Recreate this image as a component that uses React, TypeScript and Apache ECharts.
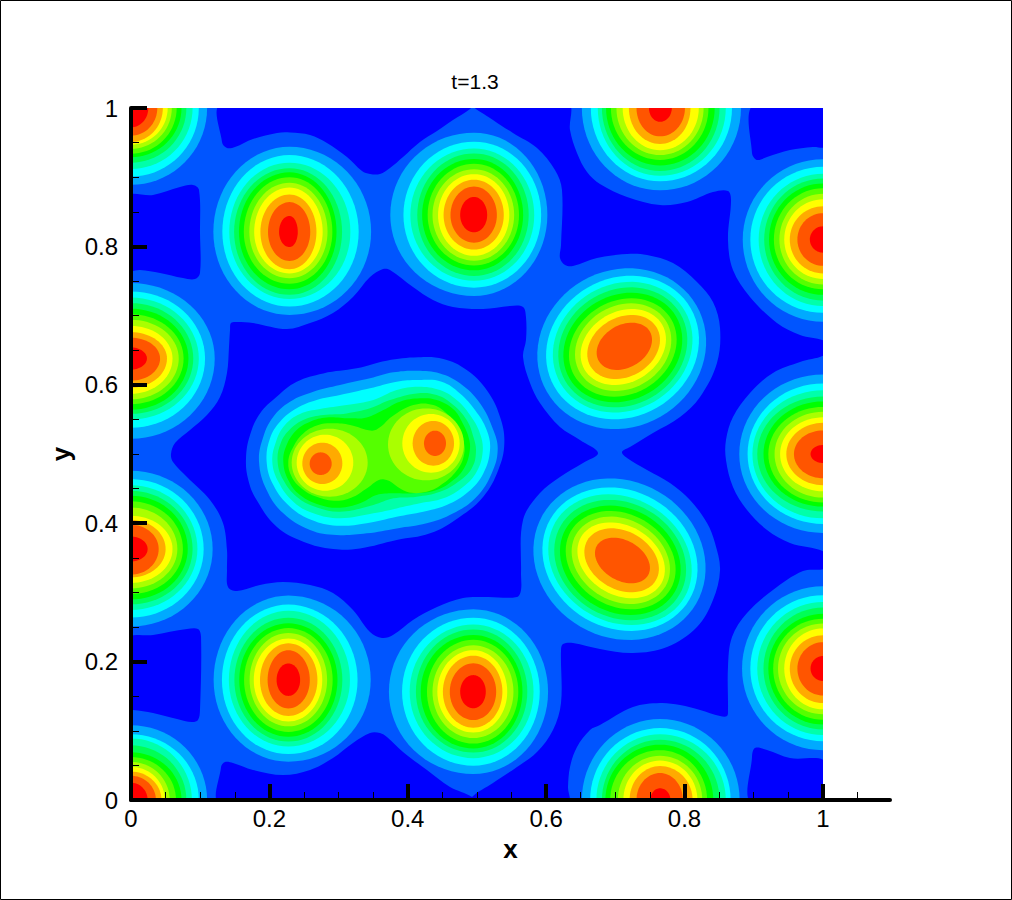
import React, { useEffect, useRef } from "react";
import * as echarts from "echarts";

const levelColors = ["#0000ff", "#0055ff", "#00aaff", "#00ffff", "#00ffaa", "#00ff55", "#00ff00", "#55ff00", "#aaff00", "#ffff00", "#ffaa00", "#ff5500", "#ff0000"];
const xMajor = [0, 0.2, 0.4, 0.6, 0.8, 1];
const xMinor = [0.05, 0.1, 0.15, 0.25, 0.3, 0.35, 0.45, 0.5, 0.55, 0.65, 0.7, 0.75, 0.85, 0.9, 0.95, 1.05];
const title = "t=1.3";

type Pt = [number, number];
// Regions of the lowest level (dark blue), read in x,y data units
const holeTop: Pt[] = [[.1315,1.0058],[.1315,.9509],[.1387,.9422],[.1503,.9436],[.1763,.9552],[.211,.9639],[.2298,.9646],[.2587,.961],[.2832,.9494],[.3121,.9292],[.3338,.909],[.3454,.9046],[.3598,.9046],[.3743,.9133],[.3931,.9292],[.4176,.9509],[.4422,.9668],[.4653,.9827],[.4899,.9986],[.4942,1.0058]];
const holeWide: Pt[] = [[.4942,1.0058],[.6315,1.0058],[.6344,.9682],[.6445,.935],[.659,.9075],[.6777,.8902],[.7168,.8714],[.7645,.8598],[.8035,.8642],[.841,.8786],[.8627,.8801],[.8671,.8671],[.8627,.8092],[.8699,.7659],[.8945,.7269],[.9335,.6893],[.9668,.672],[1.0043,.6618],[1.0043,.6445],[.9668,.6329],[.9277,.6171],[.8945,.5882],[.8699,.5535],[.8598,.5202],[.8598,.4913],[.8699,.4523],[.8902,.4191],[.9191,.3902],[.9523,.3714],[1.0043,.3569],[1.0043,.3353],[.9711,.3309],[.9277,.3035],[.8902,.2702],[.8685,.2355],[.8627,.1922],[.8627,.1301],[.8613,.1214],[.8512,.1214],[.8223,.1301],[.7934,.1373],[.7645,.1402],[.7254,.1344],[.6777,.1084],[.6633,.1012],[.6445,.0766],[.6344,.0477],[.6315,.0188],[.6315,-.0058],[.4928,-.0058],[.4928,.0043],[.5231,.0246],[.5578,.0477],[.5867,.0694],[.6098,.1012],[.6214,.1402],[.6214,.2168],[.6243,.2254],[.6387,.2269],[.6777,.2182],[.7254,.2124],[.7746,.2211],[.8179,.25],[.841,.289],[.8512,.3324],[.8439,.3714],[.8324,.4003],[.8078,.4335],[.7789,.4581],[.7457,.4769],[.7168,.4942],[.7095,.5029],[.7211,.5101],[.7543,.5303],[.7934,.5535],[.8223,.5824],[.8468,.6315],[.8512,.6821],[.841,.7197],[.8179,.7486],[.7832,.776],[.7457,.7876],[.7168,.789],[.6734,.7832],[.6387,.7717],[.6272,.7731],[.6199,.7832],[.6214,.802],[.6228,.8815],[.6127,.9104],[.5867,.9422],[.552,.9639],[.5231,.9827]];
const holeCentre: Pt[] = [[.0578,.5],[.0636,.5159],[.0853,.5347],[.1098,.5564],[.1286,.5824],[.1387,.6171],[.1416,.6546],[.1431,.6792],[.1445,.6893],[.1532,.6908],[.1763,.6893],[.2254,.6806],[.2587,.6893],[.2919,.7038],[.3208,.7269],[.3454,.7558],[.3642,.7673],[.3743,.7659],[.4075,.7413],[.4364,.7225],[.4653,.7124],[.5087,.7095],[.5477,.7139],[.5665,.7124],[.5708,.698],[.5708,.6647],[.5665,.6402],[.5766,.6026],[.591,.5737],[.6199,.539],[.6488,.5202],[.6749,.5014],[.6532,.487],[.6199,.4668],[.591,.4436],[.5665,.4046],[.5636,.328],[.5636,.3035],[.5578,.2934],[.5145,.2934],[.4798,.2919],[.4422,.2789],[.4075,.2601],[.3786,.2384],[.3627,.2341],[.3454,.2428],[.3208,.2746],[.2919,.2991],[.2587,.3107],[.2197,.315],[.1864,.3107],[.1532,.302],[.1402,.3078],[.1387,.3324],[.1387,.3613],[.1329,.4003],[.1142,.4335],[.0809,.4668],[.0607,.4884]];
const holeTopRight: Pt[] = [[.9003,1.0058],[.8974,.935],[.9046,.9249],[.9191,.9292],[.9523,.9393],[.9855,.9436],[1.0043,.9451],[1.0043,1.0058]];
const holeLeftUpper: Pt[] = [[-.0058,.8714],[.0318,.8743],[.0708,.8858],[.0896,.8887],[.0983,.8815],[.0997,.8194],[.0997,.7616],[.0925,.7529],[.0751,.7543],[.0419,.7616],[.013,.7659],[-.0058,.7659]];
const holeLeftLower: Pt[] = [[-.0058,.2327],[.0318,.2384],[.0809,.2471],[.0968,.2471],[.1012,.2355],[.0997,.1301],[.0968,.1156],[.0882,.1127],[.0665,.1171],[.0318,.1257],[.0029,.1301],[-.0058,.1301]];
const holeBottomLeft: Pt[] = [[.1301,-.0058],[.1301,.0477],[.1358,.0549],[.1474,.0535],[.1763,.0434],[.2197,.0361],[.2587,.0434],[.2919,.0607],[.3208,.0824],[.3454,.0968],[.3598,.0968],[.3699,.091],[.3931,.0694],[.4277,.0434],[.461,.0188],[.4928,.0043],[.4957,-.0058]];
const holeBottomRight: Pt[] = [[.8974,-.0058],[.8974,.0621],[.9017,.0751],[.9191,.0723],[.9523,.0607],[1.0043,.0549],[1.0043,-.0058]];

// Peaks: centre, and distance (in 1/1000 of the axis) from centre to each band's outer edge, level 2 upward
const peakCornerTL = { c: [0, 1], l: [110,98,89,80,73,66,59,53,46,38,25], r: [110,98,89,80,73,66,59,53,46,38,25], t: [111,99,88,79,71,66,59,53,49,40,28], b: [111,99,88,79,71,66,59,53,49,40,28] };
const peakUpperA = { c: [.229,.821], l: [110,97,87,80,73,66,58,51,42,31,15], r: [118,100,88,76,68,62,55,48,39,30,12], t: [123,111,100,92,86,79,71,64,54,43,23], b: [120,108,97,91,83,75,67,60,54,42,22] };
const peakUpperB = { c: [.4957,.8454], l: [121,102,92,82,75,67,60,52,44,34,20], r: [106,97,87,79,71,65,58,51,43,33,19], t: [119,106,96,89,81,74,66,59,51,41,26], b: [117,105,95,88,80,73,66,59,50,40,25] };
const peakTop = { c: [.7645,1], l: [113,100,90,84,78,71,63,54,45,34,16], r: [117,104,95,86,79,70,63,56,44,36,17], t: [119,106,98,91,83,75,68,61,52,41,20], b: [119,106,98,91,83,75,68,61,52,41,20] };
const peakRightUpper = { c: [1,.81], l: [116,105,93,85,78,71,63,56,48,37,19], r: [116,105,93,85,78,71,63,56,48,37,19], t: [116,105,95,88,81,74,66,58,48,38,19], b: [119,106,96,88,80,72,65,57,49,38,19] };
const peakLeftUpper = { c: [0,.638], l: [121,107,98,90,83,76,69,60,52,42,23], r: [121,107,98,90,83,76,69,60,52,42,23], t: [109,97,88,80,72,64,56,47,38,30,16], b: [116,100,88,80,74,66,59,51,42,32,16] };
const peakRightMid = { c: [1,.5], l: [121,109,102,95,86,79,70,62,53,42,18], r: [121,109,102,95,86,79,70,62,53,42,18], t: [115,102,92,83,76,68,61,53,45,34,13], b: [114,101,93,83,76,70,63,54,45,35,13] };
const peakLeftLower = { c: [0,.3627], l: [118,105,96,89,82,75,67,60,50,40,24], r: [118,105,96,89,82,75,67,60,50,40,24], t: [113,101,92,84,77,69,60,48,42,35,18], b: [112,99,88,80,73,65,57,49,41,37,18] };
const peakLowerA = { c: [.2274,.1734], l: [108,96,86,78,71,64,56,50,41,30,17], r: [119,100,89,78,71,64,56,49,42,31,17], t: [122,109,100,90,82,75,68,60,53,43,24], b: [118,107,96,89,82,75,67,60,52,41,23] };
const peakLowerB = { c: [.4947,.1565], l: [122,103,92,83,76,67,59,52,44,34,19], r: [108,96,87,78,71,65,58,49,42,33,18], t: [119,107,97,90,82,75,67,60,52,41,24], b: [119,107,96,88,82,75,67,59,52,41,24] };
const peakRightLower = { c: [1,.19], l: [117,105,95,86,79,72,65,56,48,37,18], r: [117,105,95,86,79,72,65,56,48,37,18], t: [119,106,96,88,79,72,65,58,48,38,18], b: [118,105,96,88,81,74,66,59,50,39,18] };
const peakCornerBL = { c: [0,0], l: [110,98,88,80,73,65,56,49,44,36,24], r: [110,98,88,80,73,65,56,49,44,36,24], t: [108,95,89,79,69,62,55,48,41,35,25], b: [108,95,89,79,69,62,55,48,41,35,25] };
const peakBottom = { c: [.7645,0], l: [113,101,92,84,79,72,61,53,44,34,14], r: [115,102,95,86,77,68,61,54,47,33,15], t: [117,104,95,87,80,72,64,57,49,39,17], b: [117,104,95,87,80,72,64,57,49,39,17] };
const quadPeaks = [peakCornerTL, peakUpperA, peakUpperB, peakTop, peakRightUpper, peakLeftUpper, peakRightMid, peakLeftLower, peakLowerA, peakLowerB, peakRightLower, peakCornerBL, peakBottom];

// Tilted peaks: cx, cy, semi-major, semi-minor per band, level 2 upward
const tiltUpperAngle = 30;
const tiltUpper: number[][] = [[.7091,.6522,.1248,.1132],[.7103,.6539,.1137,.1002],[.7105,.6544,.104,.091],[.7107,.6541,.0963,.0833],[.7107,.6539,.0891,.0756],[.7107,.6539,.081,.0674],[.7112,.6544,.0725,.06],[.7114,.6546,.0648,.0512],[.7119,.6546,.0554,.0428],[.7129,.6556,.0426,.0309]];
const tiltLowerAngle = -30;
const tiltLower: number[][] = [[.7059,.348,.1281,.1127],[.7066,.348,.1161,.0992],[.7066,.3473,.1079,.0896],[.7069,.3468,.0992,.0824],[.7071,.3464,.091,.0747],[.7076,.3466,.0833,.0665],[.7078,.3464,.0747,.0588],[.7083,.3464,.067,.0501],[.709,.3464,.0573,.0419],[.7102,.3461,.0427,.029]];

// Twin-lobed island in the centre: bands level 1 to level 7
const lobeL1: Pt[] = [[.1662,.4937],[.172,.5274],[.1864,.5587],[.2105,.5828],[.2394,.6045],[.2779,.6165],[.3261,.6238],[.3695,.6348],[.4152,.6397],[.4513,.6372],[.4851,.6213],[.514,.5924],[.5332,.5539],[.5395,.5154],[.5308,.4768],[.5091,.4383],[.4754,.4094],[.4321,.3853],[.3839,.3757],[.3309,.3636],[.2924,.3627],[.249,.3733],[.2105,.3949],[.1816,.4335],[.1695,.4624]];
const lobeL2: Pt[] = [[.185,.4889],[.1912,.525],[.2057,.5539],[.2298,.5756],[.2635,.59],[.302,.5997],[.3454,.6093],[.3791,.618],[.4128,.6204],[.4465,.6165],[.4754,.6021],[.5043,.5732],[.5236,.5346],[.5299,.5057],[.5212,.472],[.4995,.4383],[.4658,.4142],[.4273,.3998],[.3839,.3925],[.3405,.3853],[.2972,.3829],[.2587,.3901],[.2201,.4142],[.196,.4479]];
const lobeL3: Pt[] = [[.196,.4889],[.2009,.5226],[.2153,.5467],[.2394,.566],[.2683,.578],[.302,.5852],[.3454,.5949],[.3839,.6045],[.4152,.6069],[.4489,.6045],[.4754,.5876],[.4971,.5635],[.514,.5346],[.5188,.5057],[.5091,.472],[.4875,.4455],[.4562,.4263],[.4224,.4166],[.3839,.4094],[.3405,.4],[.2972,.3964],[.2611,.4046],[.2298,.4238],[.2057,.4552]];
const lobeL4: Pt[] = [[.2042,.4889],[.2095,.5178],[.2225,.5419],[.2442,.5578],[.2731,.565],[.3116,.5708],[.3502,.578],[.3839,.5924],[.4152,.5973],[.4465,.5924],[.4706,.578],[.4899,.5563],[.5043,.5298],[.5082,.5033],[.4995,.4744],[.4802,.4527],[.4513,.4359],[.4176,.4287],[.3839,.4214],[.3502,.4142],[.302,.407],[.2635,.4142],[.2346,.4311],[.2129,.46]];
const lobeL5: Pt[] = [[.2119,.4889],[.2163,.5154],[.2298,.5356],[.2514,.5501],[.2779,.5563],[.3116,.5587],[.3454,.566],[.3743,.578],[.4128,.5876],[.4417,.5852],[.4658,.5708],[.4851,.5491],[.4947,.525],[.4985,.5033],[.4923,.4792],[.473,.46],[.4465,.4455],[.4128,.4383],[.3791,.4359],[.3502,.4263],[.302,.4166],[.2659,.4238],[.2394,.4383],[.2201,.4624]];
const lobeL6: Pt[] = [[.2201,.4889],[.2249,.513],[.2394,.5346],[.2587,.5467],[.2827,.5529],[.3165,.5515],[.3405,.5529],[.3646,.5635],[.3887,.5756],[.4176,.5804],[.4417,.578],[.4658,.5645],[.4793,.5443],[.4889,.5202],[.4889,.5009],[.4812,.4792],[.4658,.4624],[.4417,.4479],[.408,.4431],[.3791,.4431],[.355,.4407],[.3309,.4287],[.302,.4224],[.2731,.4263],[.2442,.4407],[.2273,.4624]];
const lobeL7: Pt[] = [[.2273,.4889],[.2346,.5106],[.249,.5298],[.2707,.5419],[.2924,.5443],[.3165,.5419],[.3478,.5337],[.3598,.5385],[.3767,.5539],[.408,.5708],[.4369,.5708],[.4586,.5563],[.473,.537],[.4812,.5154],[.4812,.4985],[.473,.4792],[.4513,.4576],[.4273,.4455],[.3984,.4455],[.3646,.4634],[.3405,.4503],[.3213,.4383],[.2972,.4325],[.2683,.4383],[.2466,.4503],[.2322,.4672]];
// Inner ovals of each lobe: cx, cy, half width, half height, for levels 8 to 11
const lobeLeftOvals: number[][] = [[.2871,.4874,.0549,.0491],[.2803,.4874,.0409,.0405],[.2765,.4865,.0289,.0299],[.2741,.486,.0159,.0164]];
const lobeRightOvals: number[][] = [[.4263,.5139,.0549,.052],[.4335,.5154,.0414,.0424],[.4369,.5154,.0299,.0323],[.4393,.5154,.0159,.0183]];

const STEPS = 72;
function quadRing(p: any, i: number): Pt[] {
  const pts: Pt[] = [];
  for (let k = 0; k < STEPS; k++) {
    const a = (k / STEPS) * 2 * Math.PI;
    const ca = Math.cos(a), sa = Math.sin(a);
    const rx = (ca >= 0 ? p.r[i] : p.l[i]) / 1000;
    const ry = (sa >= 0 ? p.t[i] : p.b[i]) / 1000;
    pts.push([p.c[0] + rx * ca, p.c[1] + ry * sa]);
  }
  return pts;
}
function tiltRing(row: number[], deg: number): Pt[] {
  const [cx, cy, ra, rb] = row;
  const th = (deg * Math.PI) / 180;
  const pts: Pt[] = [];
  for (let k = 0; k < STEPS; k++) {
    const a = (k / STEPS) * 2 * Math.PI;
    const u = ra * Math.cos(a), v = rb * Math.sin(a);
    pts.push([cx + u * Math.cos(th) - v * Math.sin(th), cy + u * Math.sin(th) + v * Math.cos(th)]);
  }
  return pts;
}

type Shape = { level: number; points: Pt[]; smooth: number };
function buildShapes(): Shape[] {
  const out: Shape[] = [];
  out.push({ level: 1, points: [[-.01, -.01], [1.01, -.01], [1.01, 1.01], [-.01, 1.01]], smooth: 0 });
  [holeTop, holeWide, holeCentre, holeTopRight, holeLeftUpper, holeLeftLower, holeBottomLeft, holeBottomRight].forEach((h) => out.push({ level: 0, points: h, smooth: 0.35 }));
  quadPeaks.forEach((p) => p.l.forEach((_: number, i: number) => out.push({ level: i + 2, points: quadRing(p, i), smooth: 0 })));
  tiltUpper.forEach((r, i) => out.push({ level: i + 2, points: tiltRing(r, tiltUpperAngle), smooth: 0 }));
  tiltLower.forEach((r, i) => out.push({ level: i + 2, points: tiltRing(r, tiltLowerAngle), smooth: 0 }));
  [lobeL1, lobeL2, lobeL3, lobeL4, lobeL5, lobeL6, lobeL7].forEach((l, i) => out.push({ level: i + 1, points: l, smooth: 0.4 }));
  [lobeLeftOvals, lobeRightOvals].forEach((ov) => ov.forEach((o, i) => {
    const p = { c: [o[0], o[1]], l: [o[2] * 1000], r: [o[2] * 1000], t: [o[3] * 1000], b: [o[3] * 1000] };
    out.push({ level: i + 8, points: quadRing(p, 0), smooth: 0 });
  }));
  return out;
}

export default function App() {
  const ref = useRef<HTMLDivElement>(null);
  useEffect(() => {
    document.body.style.margin = "0";
    const chart = echarts.init(ref.current!, undefined, { renderer: "svg" });
    const shapes = buildShapes();
    const font = "'Liberation Sans', Arial, sans-serif";
    chart.setOption({
      animation: false,
      backgroundColor: "#ffffff",
      title: { text: title, left: 470, top: 66, textAlign: "center", textStyle: { fontFamily: font, fontSize: 21, fontWeight: "normal", color: "#000" } },
      graphic: [{ type: "rect", shape: { x: 0.5, y: 0.5, width: 1011, height: 899 }, style: { fill: "none", stroke: "#000", lineWidth: 1 }, silent: true, z: 100 }],
      grid: [
        { left: 131, top: 108, width: 692, height: 692 },
        { left: 131, top: 108, width: 759, height: 692 },
      ],
      xAxis: [
        { gridIndex: 0, type: "value", min: 0, max: 1, show: false },
        {
          gridIndex: 1, type: "value", min: 0, max: 1.097, position: "bottom", z: 5,
          name: "x", nameLocation: "middle", nameGap: 36,
          nameTextStyle: { fontFamily: font, fontSize: 26, fontWeight: "bold", color: "#000" },
          splitLine: { show: false },
          axisLine: { show: true, lineStyle: { color: "#000", width: 4 } },
          axisTick: { show: true, inside: true, length: 16, lineStyle: { color: "#000", width: 4 }, customValues: xMajor },
          axisLabel: { show: true, margin: 6, fontFamily: font, fontSize: 24, color: "#000", customValues: xMajor, formatter: (v: number) => String(v), hideOverlap: false },
        },
        {
          gridIndex: 1, type: "value", min: 0, max: 1.097, position: "bottom", z: 5,
          splitLine: { show: false },
          axisLine: { show: false },
          axisTick: { show: true, inside: true, length: 8, lineStyle: { color: "#000", width: 1 }, customValues: xMinor },
          axisLabel: { show: false },
        },
      ],
      yAxis: [
        {
          gridIndex: 0, type: "value", min: 0, max: 1, interval: 0.2, position: "left", z: 5,
          name: "y", nameLocation: "middle", nameGap: 57,
          nameTextStyle: { fontFamily: font, fontSize: 26, fontWeight: "bold", color: "#000" },
          splitLine: { show: false },
          axisLine: { show: true, lineStyle: { color: "#000", width: 4 } },
          axisTick: { show: true, inside: true, length: 16, lineStyle: { color: "#000", width: 4 } },
          minorTick: { show: true, splitNumber: 4, length: 8, lineStyle: { color: "#000", width: 1 } },
          minorSplitLine: { show: false },
          axisLabel: { show: true, margin: 13, fontFamily: font, fontSize: 24, color: "#000", formatter: (v: number) => String(v) },
        },
        { gridIndex: 1, type: "value", min: 0, max: 1, show: false },
      ],
      series: [
        {
          type: "custom",
          coordinateSystem: "cartesian2d",
          xAxisIndex: 0,
          yAxisIndex: 0,
          clip: true,
          silent: true,
          z: 1,
          data: shapes.map((s, i) => [s.level, i]),
          encode: { x: 0, y: 1 },
          renderItem: (params: any, api: any) => {
            const s = shapes[params.dataIndex];
            return {
              type: "polygon",
              shape: { points: s.points.map((p) => api.coord(p)), smooth: s.smooth },
              style: { fill: levelColors[s.level], stroke: "none" },
            };
          },
        },
      ],
    });
    return () => chart.dispose();
  }, []);
  return <div ref={ref} style={{ width: 1012, height: 900 }} />;
}
